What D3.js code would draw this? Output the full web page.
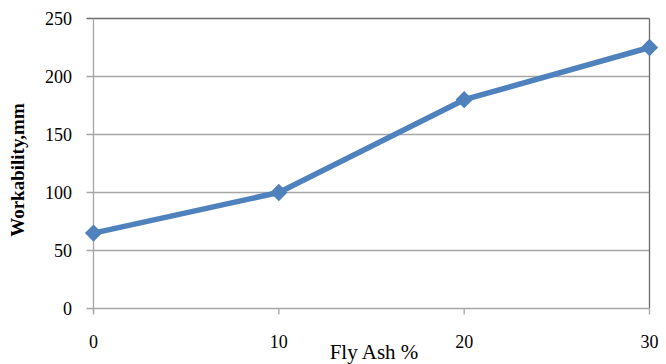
<!DOCTYPE html>
<html>
<head>
<meta charset="utf-8">
<script src="https://cdn.jsdelivr.net/npm/d3@7"></script>
<style>
  html, body { margin: 0; padding: 0; background: #fff; }
  svg { display: block; }
</style>
</head>
<body>
<svg id="chart" width="666" height="364"></svg>
<script>
// Workability of the mix against fly ash replacement
const flyAsh = [0, 10, 20, 30];
const workability = [65, 100, 180, 225];
const yTicks = [0, 50, 100, 150, 200, 250];
const xTicks = [0, 10, 20, 30];

const serif = "'Liberation Serif', 'Times New Roman', Times, 'DejaVu Serif', serif";

const svg = d3.select("#chart")
  .attr("font-family", serif);
const plotLeft = 93.5, plotRight = 649.5, plotTop = 18.5, plotBottom = 308.5;

const x = d3.scaleLinear().domain([0, 30]).range([plotLeft, plotRight]);
const y = d3.scaleLinear().domain([0, 250]).range([plotBottom, plotTop]);

// horizontal gridlines
svg.append("g")
  .selectAll("line")
  .data(yTicks.filter(d => d > 0))
  .join("line")
  .attr("x1", plotLeft - 7).attr("x2", plotRight)
  .attr("y1", d => y(d)).attr("y2", d => y(d))
  .attr("stroke", d => d === 250 ? "#6b6b6b" : "#a6a6a6")
  .attr("stroke-width", 1.3);

// frame: right edge dark, left and bottom axes grey
svg.append("line").attr("x1", plotRight).attr("x2", plotRight).attr("y1", plotTop).attr("y2", plotBottom)
  .attr("stroke", "#6b6b6b").attr("stroke-width", 1.3);
svg.append("line").attr("x1", plotLeft).attr("x2", plotLeft).attr("y1", plotTop).attr("y2", plotBottom + 5)
  .attr("stroke", "#a6a6a6").attr("stroke-width", 1.3);
svg.append("line").attr("x1", plotLeft - 7).attr("x2", plotRight).attr("y1", plotBottom).attr("y2", plotBottom)
  .attr("stroke", "#a6a6a6").attr("stroke-width", 1.3);

// x tick marks
svg.append("g")
  .selectAll("line")
  .data(xTicks)
  .join("line")
  .attr("x1", d => x(d)).attr("x2", d => x(d))
  .attr("y1", plotBottom).attr("y2", plotBottom + 6)
  .attr("stroke", "#a6a6a6").attr("stroke-width", 1.3);

// y tick labels
svg.append("g")
  .selectAll("text")
  .data(yTicks)
  .join("text")
  .attr("font-family", serif)
  .attr("font-size", 18)
  .attr("x", 72).attr("y", d => y(d) + 6)
  .attr("text-anchor", "end")
  .text(d => d);

// x tick labels
svg.append("g")
  .selectAll("text")
  .data(xTicks)
  .join("text")
  .attr("font-family", serif)
  .attr("font-size", 18)
  .attr("x", d => x(d)).attr("y", 348)
  .attr("text-anchor", "middle")
  .text(d => d);

// axis titles
svg.append("text")
  .attr("font-family", serif)
  .attr("font-size", 21)
  .attr("x", 374).attr("y", 359)
  .attr("text-anchor", "middle")
  .text("Fly Ash %");

svg.append("text")
  .attr("font-family", serif)
  .attr("font-size", 19)
  .attr("font-weight", "bold")
  .attr("transform", "translate(24,170) rotate(-90)")
  .attr("text-anchor", "middle")
  .text("Workability,mm");

// series line
const line = d3.line().x((d, i) => x(flyAsh[i])).y(d => y(d));
svg.append("path")
  .datum(workability)
  .attr("d", line)
  .attr("fill", "none")
  .attr("stroke", "#4f81bd")
  .attr("stroke-width", 5.5)
  .attr("stroke-linejoin", "round");

// diamond markers
const diamond = d3.symbol().type(d3.symbolSquare).size(150);
svg.append("g")
  .selectAll("path")
  .data(workability)
  .join("path")
  .attr("transform", (d, i) => `translate(${x(flyAsh[i])},${y(d)}) rotate(45)`)
  .attr("d", diamond)
  .attr("fill", "#4f81bd");
</script>
</body>
</html>
